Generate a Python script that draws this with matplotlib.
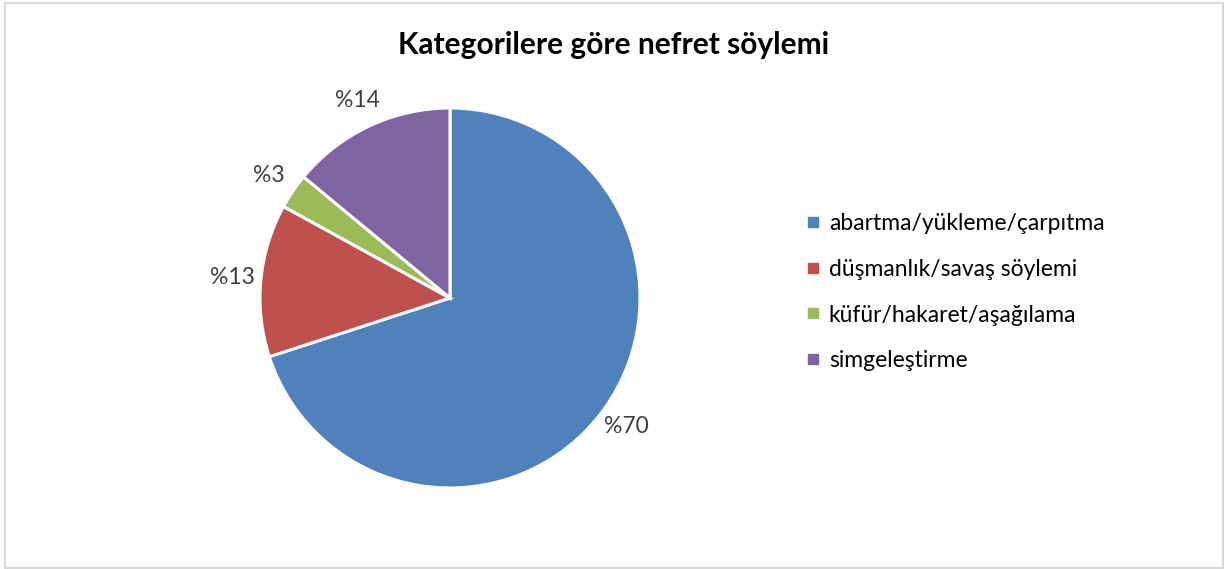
import matplotlib.pyplot as plt
from matplotlib.lines import Line2D
from matplotlib.patches import Rectangle

plt.rcParams['font.family'] = ['Lato', 'DejaVu Sans']

categories = ['abartma/yükleme/çarpıtma', 'düşmanlık/savaş söylemi',
              'küfür/hakaret/aşağılama', 'simgeleştirme']
values = [70, 13, 3, 14]
colors = ['#4F81BD', '#C0504D', '#9BBB59', '#8064A2']

W, H = 1229, 569
fig = plt.figure(figsize=(W / 100, H / 100), dpi=100)

# chart border
fig.patches.append(Rectangle((5 / W, 1.5 / H), 1218 / W, 565 / H, transform=fig.transFigure,
                             fill=False, edgecolor='#D9D9D9', linewidth=1.5))

# pie axes: centre (450, 298) px, radius 190 px
cx, cy, r = 450, H - 298, 190
ax = fig.add_axes([(cx - r) / W, (cy - r) / H, 2 * r / W, 2 * r / H])
wedges, texts, autotexts = ax.pie(
    values, colors=colors, startangle=90, counterclock=False,
    autopct=lambda p: f'%{p:.0f}', pctdistance=1.15,
    wedgeprops=dict(edgecolor='white', linewidth=2.2),
    textprops=dict(color='#404040', fontsize=16.5))
ax.set_xlim(-1, 1)
ax.set_ylim(-1, 1)
ax.set_aspect('equal')
ax.axis('off')

fig.text(614 / W, 1 - 45 / H, 'Kategorilere göre nefret söylemi', ha='center', va='center',
         fontsize=21.5, fontweight='bold', color='black')

handles = [Line2D([], [], marker='s', linestyle='none', markersize=7,
                  markerfacecolor=c, markeredgecolor=c) for c in colors]
fig.legend(handles, categories, loc='upper left', bbox_to_anchor=(807 / W, 1 - 213 / H),
           frameon=False, fontsize=16.5, handlelength=0.5, handletextpad=0.45,
           labelspacing=1.08, borderpad=0, borderaxespad=0)

fig.savefig('out.png', dpi=100)
